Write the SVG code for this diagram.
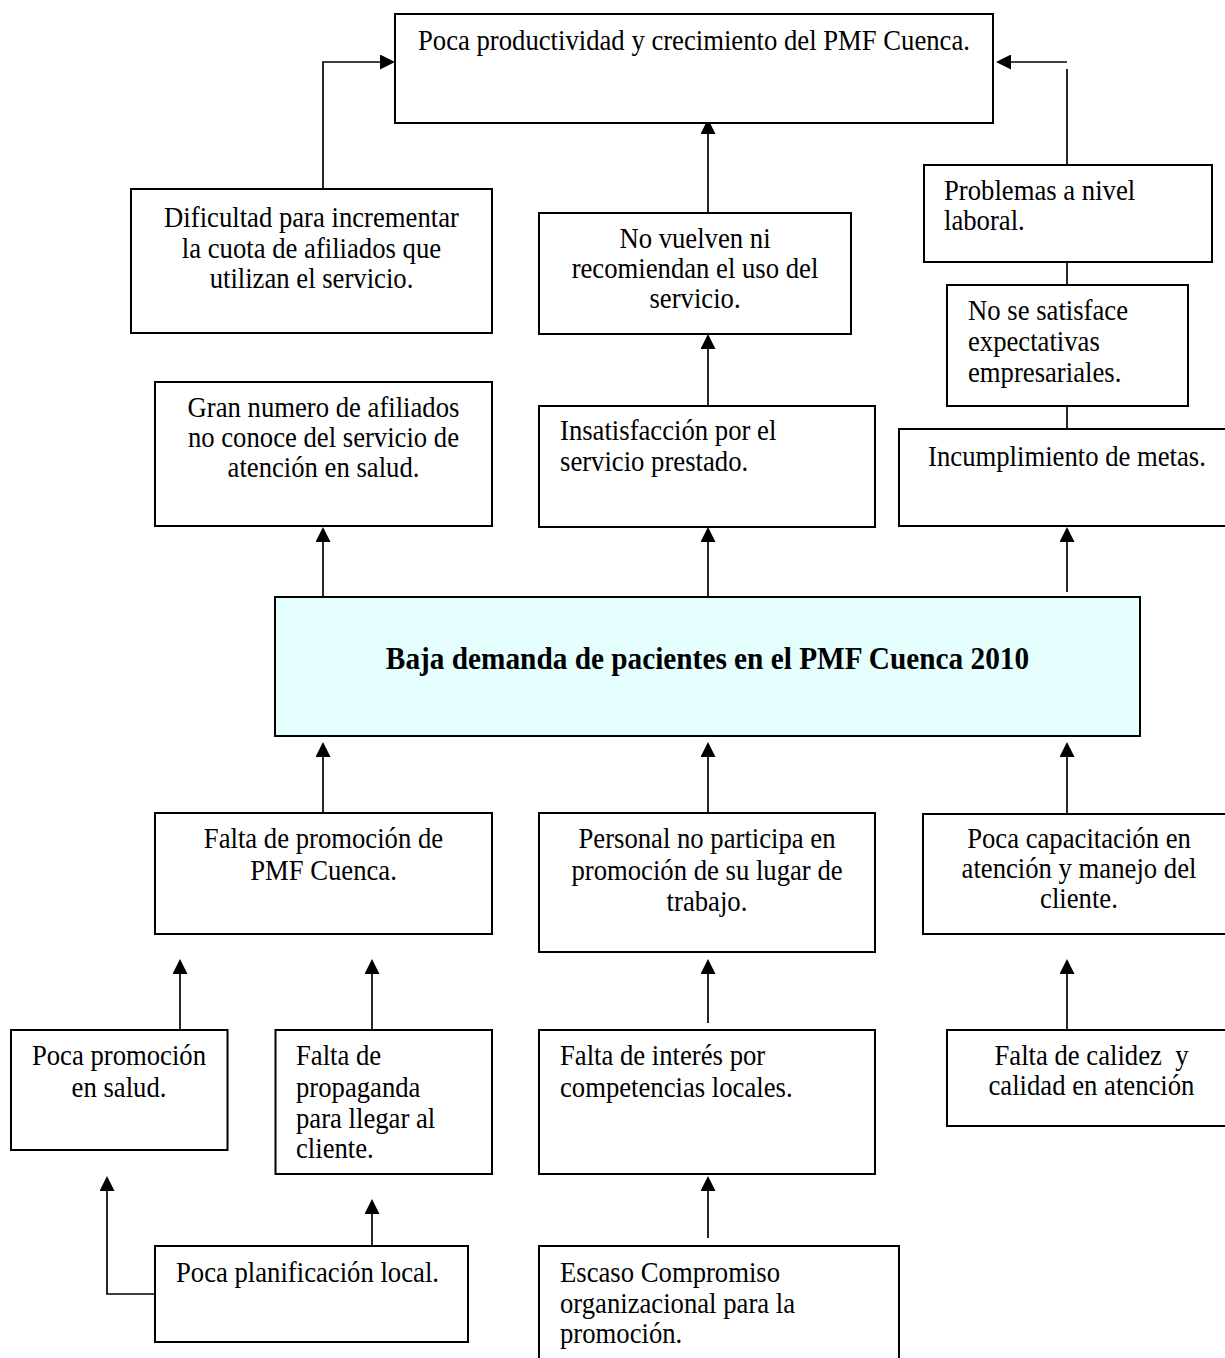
<svg xmlns="http://www.w3.org/2000/svg" width="1225" height="1358" viewBox="0 0 1225 1358">
<style>
.box{fill:#ffffff;stroke:#000000;stroke-width:2}
.core{fill:#E5FFFF;stroke:#000000;stroke-width:2}
text{font-family:"Liberation Serif","Times New Roman",serif;font-size:26.7px;fill:#000000;transform-box:fill-box;transform-origin:50% 100%;transform:scaleY(1.08)}
.c{text-anchor:middle}
.b{font-weight:bold;font-size:29.3px}
.pre{white-space:pre}
.con{fill:none;stroke:#000000;stroke-width:1.7}
.arr{marker-end:url(#ah)}
</style>
<defs>
<marker id="ah" viewBox="0 0 15 15" refX="13" refY="7.5" markerWidth="15" markerHeight="15" markerUnits="userSpaceOnUse" orient="auto">
<path d="M0,0 L15,7.5 L0,15 Z" fill="#000000"/>
</marker>
</defs>
<rect width="1225" height="1358" fill="#ffffff"/>
<g id="connectors">
<polyline class="con arr" points="323,189 323,62 393,62"/>
<line class="con arr" x1="708" y1="213" x2="708" y2="121"/>
<line class="con arr" x1="1067" y1="62" x2="998" y2="62"/>
<line class="con" x1="1067" y1="69" x2="1067" y2="165"/>
<line class="con" x1="1067" y1="262" x2="1067" y2="285"/>
<line class="con" x1="1067" y1="406" x2="1067" y2="429"/>
<line class="con arr" x1="708" y1="406" x2="708" y2="336"/>
<line class="con arr" x1="323" y1="597" x2="323" y2="529"/>
<line class="con arr" x1="708" y1="597" x2="708" y2="529"/>
<line class="con arr" x1="1067" y1="592" x2="1067" y2="529"/>
<line class="con arr" x1="323" y1="813" x2="323" y2="744"/>
<line class="con arr" x1="708" y1="813" x2="708" y2="744"/>
<line class="con arr" x1="1067" y1="814" x2="1067" y2="744"/>
<line class="con arr" x1="180" y1="1030" x2="180" y2="961"/>
<line class="con arr" x1="372" y1="1030" x2="372" y2="961"/>
<line class="con arr" x1="708" y1="1023" x2="708" y2="961"/>
<line class="con arr" x1="1067" y1="1030" x2="1067" y2="961"/>
<polyline class="con arr" points="155,1294 107,1294 107,1178"/>
<line class="con arr" x1="372" y1="1246" x2="372" y2="1201"/>
<line class="con arr" x1="708" y1="1238" x2="708" y2="1178"/>
</g>
<g id="n-top">
<rect class="box" x="395" y="14" width="598" height="109"/>
<text class="c" x="694" y="50">Poca productividad y crecimiento del PMF Cuenca.</text>
</g>
<g id="n-dificultad">
<rect class="box" x="131" y="189" width="361" height="144"/>
<text class="c" x="311.5" y="227">Dificultad para incrementar</text>
<text class="c" x="311.5" y="258">la cuota de afiliados que</text>
<text class="c" x="311.5" y="288">utilizan el servicio.</text>
</g>
<g id="n-novuelven">
<rect class="box" x="539" y="213" width="312" height="121"/>
<text class="c" x="695" y="248">No vuelven ni</text>
<text class="c" x="695" y="278">recomiendan el uso del</text>
<text class="c" x="695" y="308">servicio.</text>
</g>
<g id="n-problemas">
<rect class="box" x="924" y="165" width="288" height="97"/>
<text x="944" y="200">Problemas a nivel</text>
<text x="944" y="230">laboral.</text>
</g>
<g id="n-nosatisface">
<rect class="box" x="947" y="285" width="241" height="121"/>
<text x="968" y="320">No se satisface</text>
<text x="968" y="351">expectativas</text>
<text x="968" y="382">empresariales.</text>
</g>
<g id="n-gran">
<rect class="box" x="155" y="382" width="337" height="144"/>
<text class="c" x="323.5" y="417">Gran numero de afiliados</text>
<text class="c" x="323.5" y="447">no conoce del servicio de</text>
<text class="c" x="323.5" y="477">atención en salud.</text>
</g>
<g id="n-insatisfaccion">
<rect class="box" x="539" y="406" width="336" height="121"/>
<text x="560" y="440">Insatisfacción por el</text>
<text x="560" y="471">servicio prestado.</text>
</g>
<g id="n-incumplimiento">
<rect class="box" x="899" y="429" width="337" height="97"/>
<text class="c" x="1067" y="466">Incumplimiento de metas.</text>
</g>
<g id="n-center">
<rect class="core" x="275" y="597" width="865" height="139"/>
<text class="c b" x="707.5" y="670">Baja demanda de pacientes en el PMF Cuenca 2010</text>
</g>
<g id="n-faltapromocion">
<rect class="box" x="155" y="813" width="337" height="121"/>
<text class="c" x="323.5" y="848">Falta de promoción de</text>
<text class="c" x="323.5" y="880">PMF Cuenca.</text>
</g>
<g id="n-personal">
<rect class="box" x="539" y="813" width="336" height="139"/>
<text class="c" x="707" y="848">Personal no participa en</text>
<text class="c" x="707" y="880">promoción de su lugar de</text>
<text class="c" x="707" y="911">trabajo.</text>
</g>
<g id="n-capacitacion">
<rect class="box" x="923" y="814" width="313" height="120"/>
<text class="c" x="1079" y="848">Poca capacitación en</text>
<text class="c" x="1079" y="878">atención y manejo del</text>
<text class="c" x="1079" y="908">cliente.</text>
</g>
<g id="n-pocapromocion">
<rect class="box" x="11" y="1030" width="216.5" height="120"/>
<text class="c" x="119" y="1065">Poca promoción</text>
<text class="c" x="119" y="1097">en salud.</text>
</g>
<g id="n-propaganda">
<rect class="box" x="275.5" y="1030" width="216.5" height="144"/>
<text x="296" y="1065">Falta de</text>
<text x="296" y="1097">propaganda</text>
<text x="296" y="1128">para llegar al</text>
<text x="296" y="1158">cliente.</text>
</g>
<g id="n-interes">
<rect class="box" x="539" y="1030" width="336" height="144"/>
<text x="560" y="1065">Falta de interés por</text>
<text x="560" y="1097">competencias locales.</text>
</g>
<g id="n-calidez">
<rect class="box" x="947" y="1030" width="289" height="96"/>
<text class="c pre" x="1091.5" y="1065">Falta de calidez  y</text>
<text class="c" x="1091.5" y="1095">calidad en atención</text>
</g>
<g id="n-planificacion">
<rect class="box" x="155" y="1246" width="313" height="96"/>
<text x="176" y="1282">Poca planificación local.</text>
</g>
<g id="n-escaso">
<rect class="box" x="539" y="1246" width="360" height="130"/>
<text x="560" y="1282">Escaso Compromiso</text>
<text x="560" y="1313">organizacional para la</text>
<text x="560" y="1343">promoción.</text>
</g>
</svg>
